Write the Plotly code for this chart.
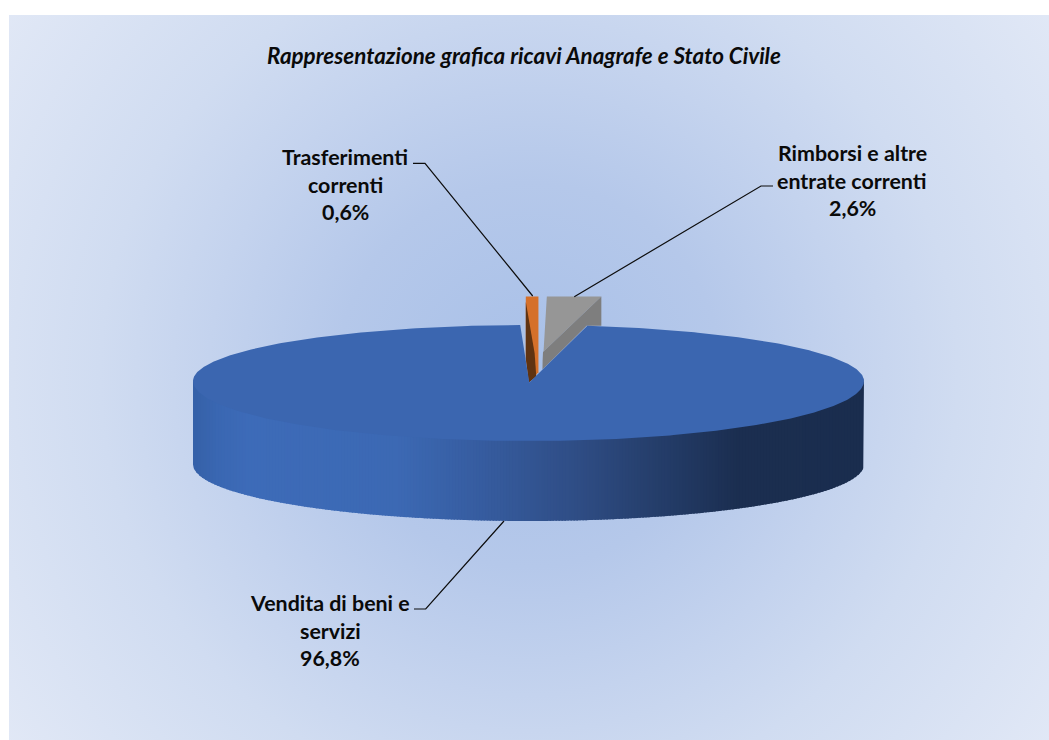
import base64
import math
import plotly.graph_objects as go

# ---- data ----
categories = ["Vendita di beni e servizi", "Trasferimenti correnti", "Rimborsi e altre entrate correnti"]
shares = [96.8, 0.6, 2.6]
label_lines = [["Vendita di beni e", "servizi"], ["Trasferimenti", "correnti"], ["Rimborsi e altre", "entrate correnti"]]
title_text = "Rappresentazione grafica ricavi Anagrafe e Stato Civile"

# ---- layout / style constants (pixel canvas) ----
W, H = 1049, 740
CX, CY = 528.5, 381.0
RX, RY_BACK, RY_FRONT = 335.5, 56.0, 60.0
DEPTH, RY_BOTTOM = 83.5, 56.5
START_DEG = 10.1
TOP_BLUE = "#3b66b0"
FONT = "Lato, Carlito, Calibri, sans-serif"
TEXT = "#0a0a0a"
SLICE_TOP = 296.5
APEX = (529.3, 382.5)


def pt(deg):
    t = math.radians(deg)
    c = math.cos(t)
    return CX + RX * math.sin(t), CY - c * (RY_BACK if c > 0 else RY_FRONT)


def hexmix(a, b, f):
    a = [int(a[i:i + 2], 16) for i in (1, 3, 5)]
    b = [int(b[i:i + 2], 16) for i in (1, 3, 5)]
    return "#%02x%02x%02x" % tuple(round(p + (q - p) * f) for p, q in zip(a, b))


side_stops = [(0, "#3561a8"), (0.035, "#3a67b2"), (0.08, "#3d6bb8"), (0.30, "#3c69b4"), (0.43, "#365c9f"),
              (0.57, "#2f4d85"), (0.71, "#233b66"), (0.81, "#1b2e50"), (1, "#1a2d4e")]


def side_color(f):
    for (f0, c0), (f1, c1) in zip(side_stops, side_stops[1:]):
        if f <= f1:
            return hexmix(c0, c1, (f - f0) / (f1 - f0))
    return side_stops[-1][1]


fig = go.Figure()


def poly(xs, ys, color, width=0.0):
    fig.add_trace(go.Scatter(x=xs, y=ys, mode="lines", fill="toself", fillcolor=color,
                             line=dict(color=color, width=width), hoverinfo="skip", showlegend=False))


def line(xs, ys):
    fig.add_trace(go.Scatter(x=xs, y=ys, mode="lines", line=dict(color="#0d0d0d", width=1.2),
                             hoverinfo="skip", showlegend=False))


# angles of every slice from the shares
edges = [START_DEG]
for s in shares:
    edges.append(edges[-1] + s * 3.6)


def wall_top(x):
    return CY + RY_FRONT * math.sqrt(max(0, 1 - ((x - CX) / RX) ** 2))


def wall_bot(x):
    return CY + DEPTH + RY_BOTTOM * math.sqrt(max(0, 1 - ((x - CX) / RX) ** 2))


# front wall as thin overlapping strips, shaded across its width (painted right to left)
N = 224
for i in range(N - 1, -1, -1):
    x0 = CX - RX + 2 * RX * i / N
    x1 = CX - RX + 2 * RX * (i + 1) / N
    pts = [x0 + (x1 - x0) * j / 4 for j in range(5)]
    pts.append(min(x1 + 1.5, CX + RX))
    poly(pts + pts[::-1] + pts[:1],
         [wall_top(p) - 3 for p in pts] + [wall_bot(p) for p in pts[::-1]] + [wall_top(pts[0]) - 3],
         side_color((i + 0.5) / N))

# the two small slices, pushed out behind the disc
offsets = [5.6, 14.0]
faces = [
    ("#d5702a", "#5f3312", [(0, 0), (1, 0), (1, 0.88), (0.25, 1.0), (0.0, 0.72)],
     [(0, 0.06), (0.7, 0.66), (0.83, 0.93), (0.24, 1.0), (0.0, 0.72)]),
    ("#969696", "#7e7e7e", [(0, 0), (1, 0), (-0.07, 0.76), (-0.08, 1.0)],
     [(1, 0), (1, 0.4), (0.73, 0.4), (-0.08, 1.0), (-0.07, 0.76)]),
]
for k, (light, dark, lit, shade) in enumerate(faces):
    x0 = pt(edges[k + 1])[0] + offsets[k]
    x1 = pt(edges[k + 2])[0] + offsets[k]
    bottom = APEX[1] if k == 0 else 369.5
    for col, shape in ((light, lit), (dark, shade)):
        poly([x0 + u * (x1 - x0) for u, v in shape] + [x0 + shape[0][0] * (x1 - x0)],
             [SLICE_TOP + v * (bottom - SLICE_TOP) for u, v in shape] + [SLICE_TOP + shape[0][1] * (bottom - SLICE_TOP)],
             col)

# top face of the large slice
deg_steps = 500
arc = [edges[0] + (edges[1] - edges[0]) * i / deg_steps for i in range(deg_steps + 1)]
xs = [pt(d)[0] for d in arc] + [APEX[0]]
ys = [pt(d)[1] for d in arc] + [APEX[1]]
poly(xs + xs[:1], ys + ys[:1], TOP_BLUE)

# leader lines
line([504, 425.7, 414], [521, 609, 609])
line([532.7, 425, 413], [296, 163.3, 163.3])
line([574.3, 761, 773], [296.7, 186, 186])

# background: soft radial gradient panel
svg = ('<svg xmlns="http://www.w3.org/2000/svg" width="1040" height="725">'
       '<defs><radialGradient id="g" gradientUnits="userSpaceOnUse" cx="520" cy="360" r="640">'
       '<stop offset="0" stop-color="#a8c0e8"/><stop offset="0.3" stop-color="#b5c8ea"/>'
       '<stop offset="0.5" stop-color="#c4d3ee"/><stop offset="0.67" stop-color="#d0dcf1"/>'
       '<stop offset="1" stop-color="#e1e8f6"/></radialGradient></defs>'
       '<rect width="1040" height="725" fill="url(#g)"/></svg>')
bg = "data:image/svg+xml;base64," + base64.b64encode(svg.encode()).decode()

annotations = [dict(x=524, y=55, text="<b><i>%s</i></b>" % title_text, showarrow=False,
                    font=dict(family=FONT, size=22.4, color=TEXT), xanchor="center", yanchor="middle")]
label_pos = [(330, [603, 631, 658]), (345, [157, 185, 212]), (852, [153, 181, 208])]
for lines, share, (x, ys_) in zip(label_lines, shares, label_pos):
    texts = lines + [("%.1f%%" % share).replace(".", ",")]
    for t, y in zip(texts, ys_):
        annotations.append(dict(x=x, y=y, text="<b>%s</b>" % t, showarrow=False,
                                font=dict(family=FONT, size=21.4, color=TEXT),
                                xanchor="center", yanchor="middle"))

fig.update_layout(
    width=W, height=H, margin=dict(l=0, r=0, t=0, b=0), autosize=False,
    paper_bgcolor="#ffffff", plot_bgcolor="rgba(0,0,0,0)", showlegend=False,
    xaxis=dict(range=[0, W], visible=False, fixedrange=True),
    yaxis=dict(range=[H, 0], visible=False, fixedrange=True),
    images=[dict(source=bg, xref="x", yref="y", x=9, y=15, sizex=1040, sizey=725,
                 sizing="stretch", xanchor="left", yanchor="top", layer="below")],
    annotations=annotations,
)
fig.write_html("out.html", config=dict(displayModeBar=False),
               post_script="document.body.style.margin='0';document.documentElement.style.overflow='hidden';")
